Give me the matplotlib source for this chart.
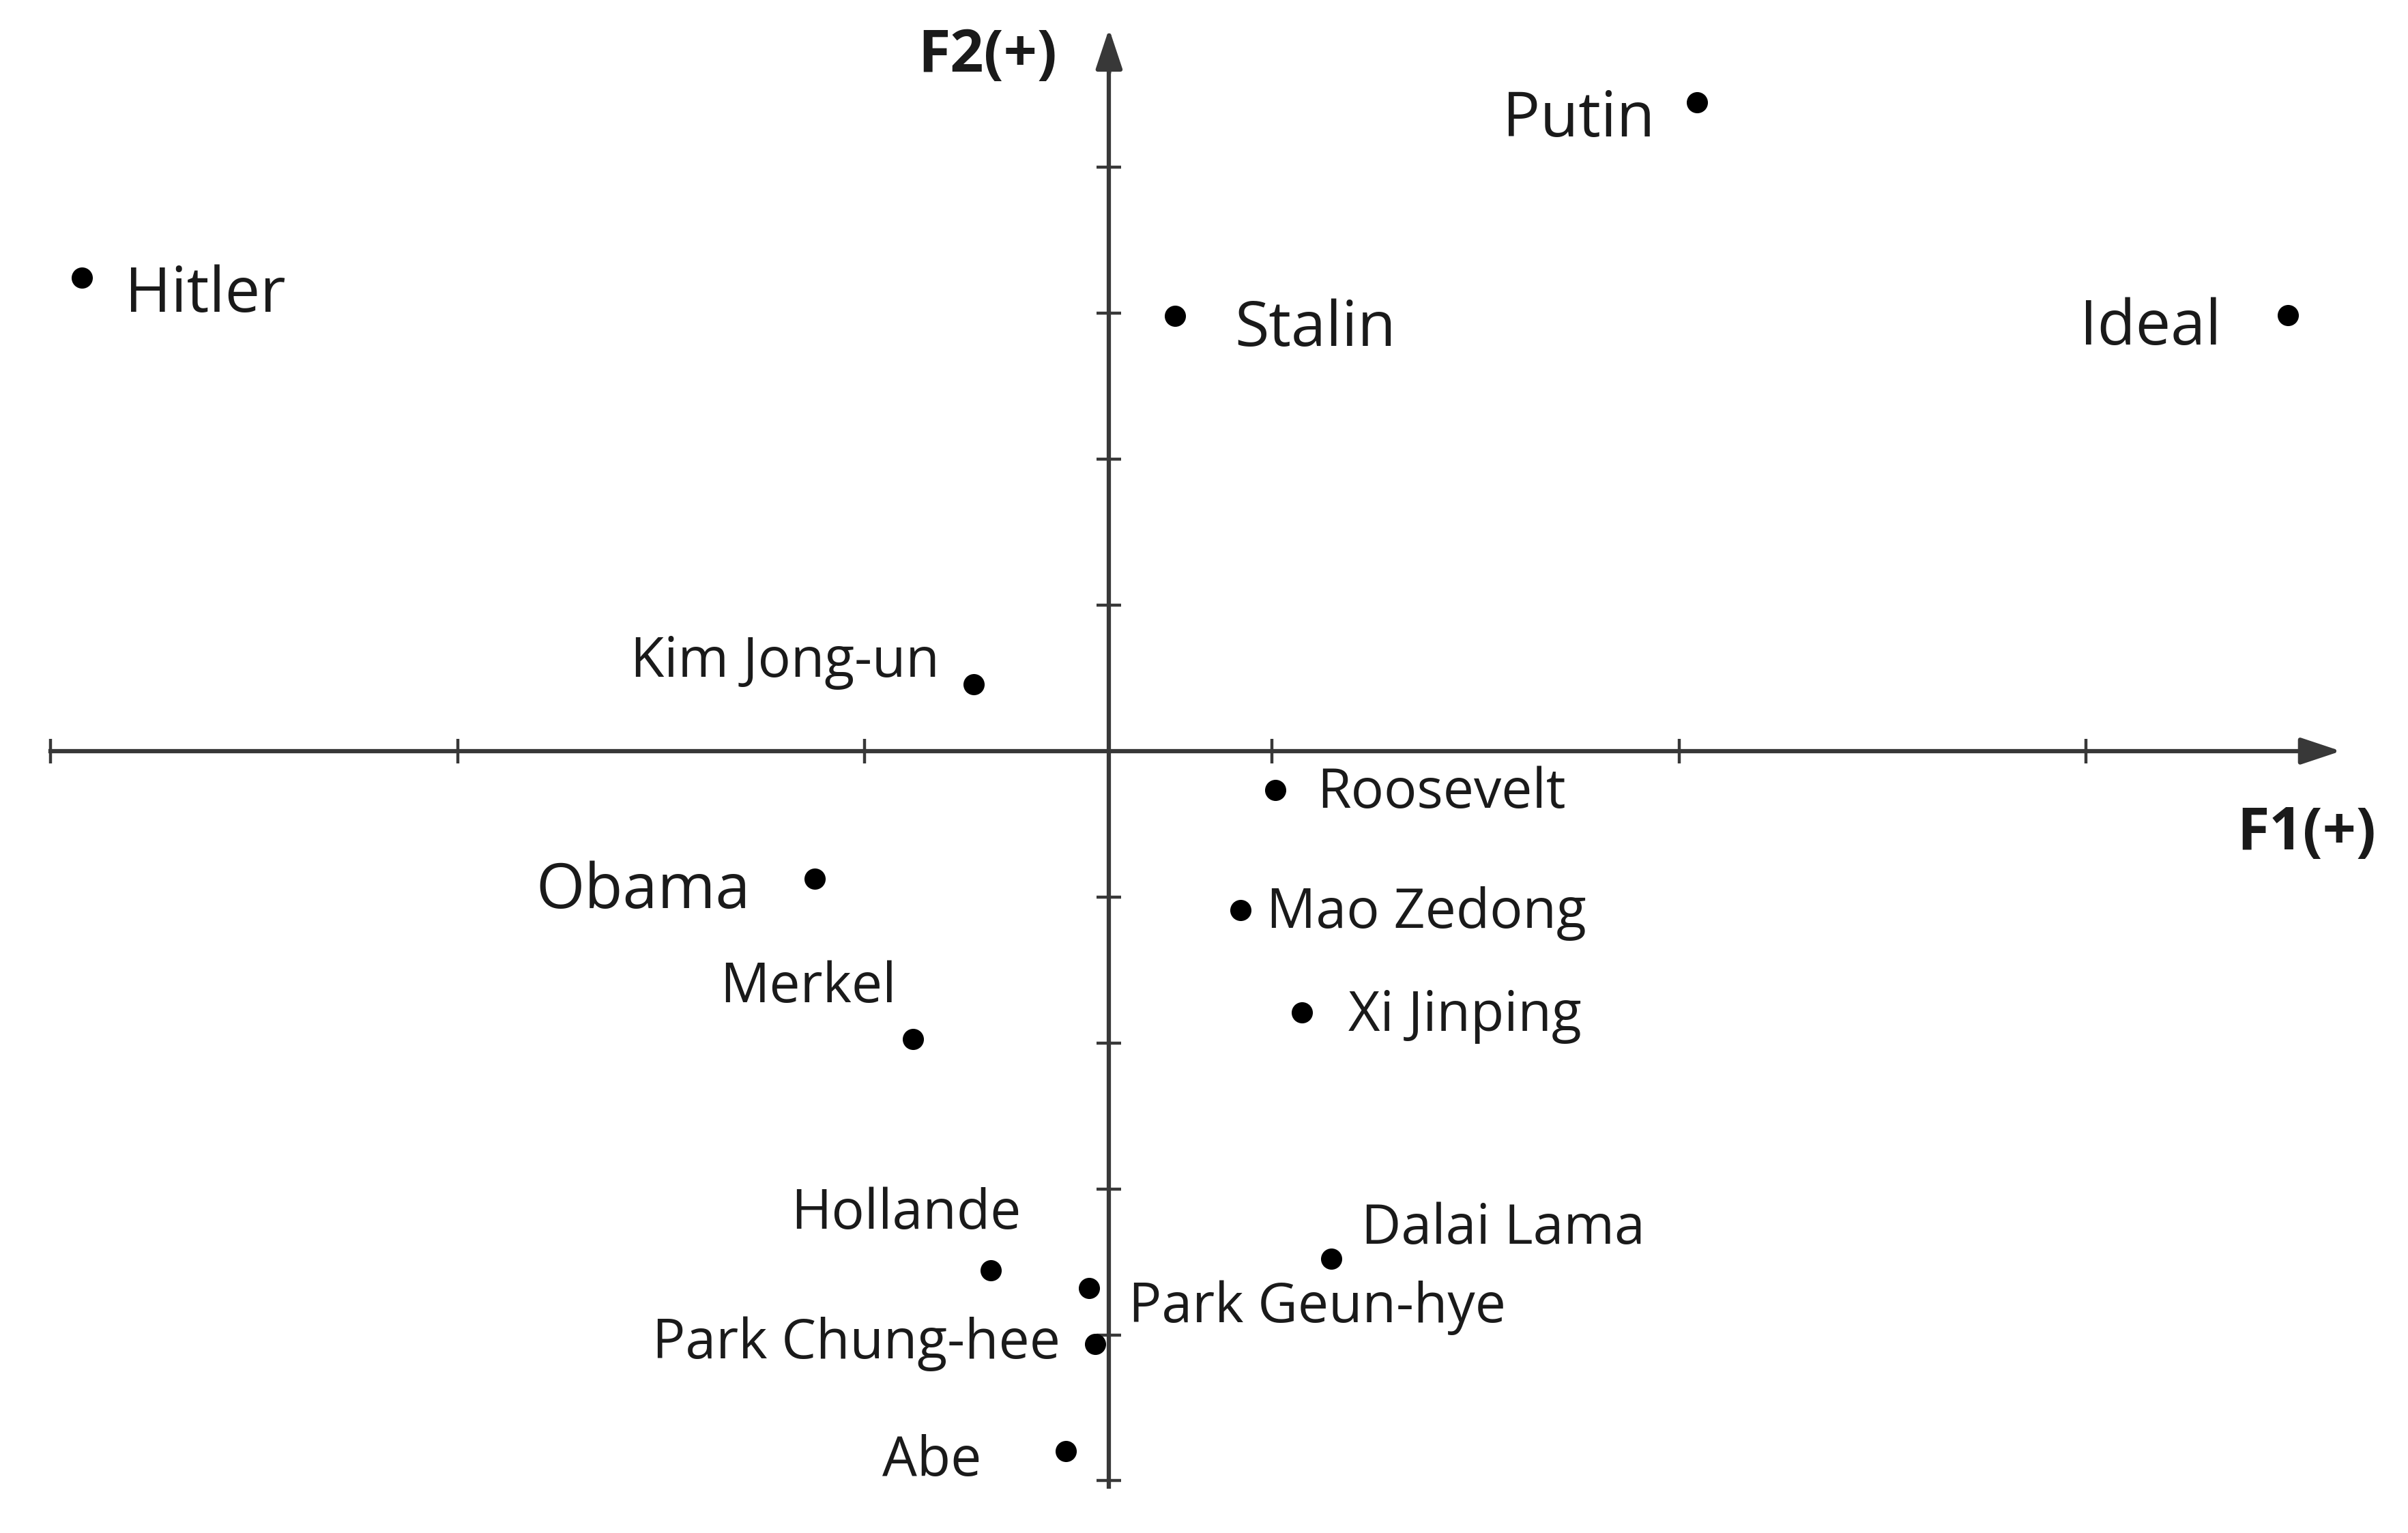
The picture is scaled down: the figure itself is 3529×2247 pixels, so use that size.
import numpy as np
import matplotlib.pyplot as plt

plt.rcParams['font.family'] = ['Open Sans', 'DejaVu Sans']

# positions on the F1 / F2 map (F1 in x-tick units, F2 in y-tick units)
names = ['Hitler', 'Stalin', 'Putin', 'Ideal', 'Kim Jong-un', 'Roosevelt',
         'Obama', 'Mao Zedong', 'Merkel', 'Xi Jinping', 'Hollande',
         'Dalai Lama', 'Park Geun-hye', 'Park Chung-hee', 'Abe']
f1 = [-2.523, 0.162, 1.445, 2.895, -0.332, 0.408,
      -0.723, 0.322, -0.481, 0.473, -0.291,
      0.545, -0.049, -0.034, -0.107]
f2 = [3.244, 2.980, 4.444, 2.987, 0.457, -0.265,
      -0.875, -1.089, -1.974, -1.792, -3.558,
      -3.479, -3.680, -4.062, -4.797]

x_ticks = [-2.6, -1.6, -0.6, 0.4, 1.4, 2.4]
y_ticks = [-5, -4, -3, -2, -1, 1, 2, 3, 4]

# label layout: (dx, dy) in points, horizontal alignment, big font?
label_style = {
    'Hitler': (45, -36, 'left', True),
    'Stalin': (63, -31, 'left', True),
    'Putin': (-45, -36, 'right', True),
    'Ideal': (-70, -31, 'right', True),
    'Obama': (-68, -31, 'right', True),
    'Kim Jong-un': (-36, 8, 'right', False),
    'Roosevelt': (44, -19, 'left', False),
    'Mao Zedong': (28, -19, 'left', False),
    'Xi Jinping': (49, -19, 'left', False),
    'Merkel': (-18, 39, 'right', False),
    'Hollande': (32, 44, 'right', False),
    'Dalai Lama': (32, 16, 'left', False),
    'Park Geun-hye': (42, -36, 'left', False),
    'Park Chung-hee': (-37, -15, 'right', False),
    'Abe': (-89, -26, 'right', False),
}

W, H = 3530, 2247
x0_px, y0_px = 1625.4, 1100.9      # origin in pixels (from top-left)
ux, uy = 596.6, 213.9              # pixels per unit

fig = plt.figure(figsize=(W / 100, H / 100), dpi=100)
ax = fig.add_axes([0, 0, 1, 1])
ax.set_xlim(-x0_px / ux, (W - x0_px) / ux)
ax.set_ylim(-(H - y0_px) / uy, y0_px / uy)

axis_col = '#383838'
x_end, y_top, y_bot = 3.026, 4.95, -5.04

for side in ['top', 'right']:
    ax.spines[side].set_visible(False)
ax.spines['left'].set_position(('data', 0))
ax.spines['bottom'].set_position(('data', 0))
ax.spines['bottom'].set_bounds(x_ticks[0], x_end - 0.03)
ax.spines['left'].set_bounds(y_bot, y_top - 0.1)
for side in ['left', 'bottom']:
    ax.spines[side].set_linewidth(4.5)
    ax.spines[side].set_color(axis_col)

ax.set_xticks(x_ticks)
ax.set_yticks(y_ticks)
ax.tick_params(direction='inout', length=26, width=3.2, color=axis_col,
               labelbottom=False, labelleft=False)

arrow = dict(arrowstyle='-|>,head_length=1.2,head_width=0.4', color=axis_col,
             lw=4.5, shrinkA=0, shrinkB=0, mutation_scale=30)
ax.annotate('', xy=(x_end, 0), xytext=(x_end - 0.1, 0), arrowprops=arrow)
ax.annotate('', xy=(0, y_top), xytext=(0, y_top - 0.3), arrowprops=arrow)

ax.scatter(f1, f2, s=500, color='black', zorder=5, linewidths=0)

for n, x, y in zip(names, f1, f2):
    dx, dy, ha, big = label_style[n]
    ax.annotate(n, (x, y), xytext=(dx, dy), textcoords='offset points',
                ha=ha, va='baseline', fontsize=66 if big else 58,
                color='#1a1a1a')

ax.annotate('F2(+)', (0, y_top), xytext=(-55, -45), textcoords='offset points',
            ha='right', va='baseline', fontsize=62, fontweight='bold', color='#1a1a1a')
ax.annotate('F1(+)', (x_end, 0), xytext=(37, -104), textcoords='offset points',
            ha='right', va='baseline', fontsize=62, fontweight='bold', color='#1a1a1a')

fig.savefig('out.png', dpi=100)
